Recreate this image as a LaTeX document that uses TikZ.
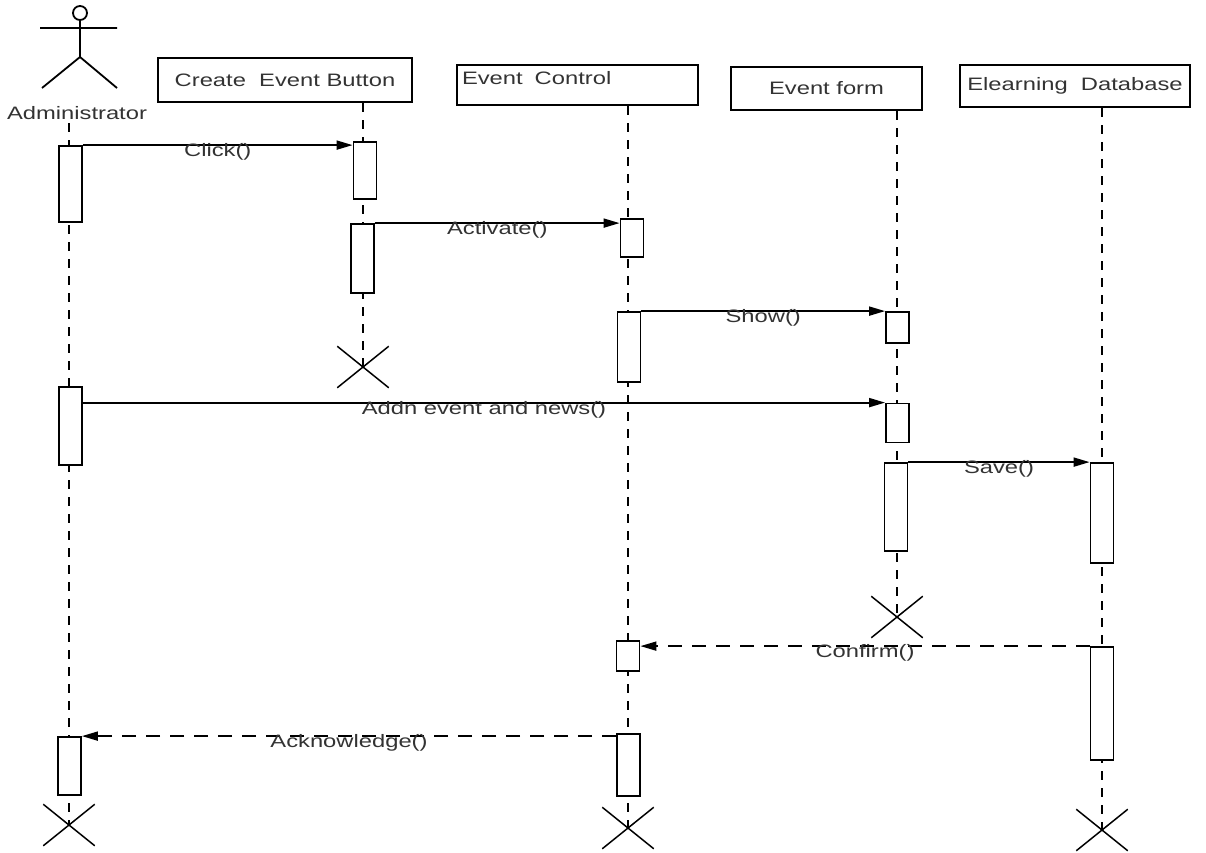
\documentclass[tikz,border=0pt]{standalone}
\usepackage{fontspec}
\setmainfont{Liberation Sans}[FakeStretch=1.32]
\usetikzlibrary{arrows.meta, positioning, shapes.misc}

\begin{document}
\begin{tikzpicture}[x=1pt, y=-1pt,
    txt/.style = {font=\fontsize{18}{21}\selectfont, text=black!80},
    obj/.style = {txt, draw, line width=2pt},
    act/.style = {draw, fill=white, line width=1.8pt, minimum width=23pt, inner sep=0pt},
    life/.style = {line width=1.1pt, dash pattern=on 9pt off 8pt},
    msg/.style = {line width=1.8pt, -{Triangle[length=16pt, width=9pt]}},
    reply/.style = {msg, dash pattern=on 14pt off 10pt},
    lbl/.style = {txt, midway, yshift=-7pt},
    kill/.style = {draw, cross out, line width=1.5pt, minimum width=50pt, minimum height=40pt, inner sep=0pt}
]
\useasboundingbox (0,0) rectangle (1206,852);

% Actor figure
\draw[line width=1.8pt] (80,13) circle (7pt);
\draw[line width=1.8pt] (40,28) -- (117,28) (80,20) -- (80,57) (42,88) -- (80,57) -- (117,88);
\node[txt] (admin) at (77,113) {Administrator};

% Object boxes along the top
\node[obj, minimum width=254pt, minimum height=44pt] (cebtn) at (285,80) {Create~ Event Button};
\node[obj, minimum width=241pt, minimum height=40pt, text width=231pt, inner xsep=5pt,
      align=left, text height=13pt, text depth=15pt] (evctl) at (577.5,85) {Event~ Control};
\node[obj, minimum width=191pt, minimum height=43pt] (evform) at (826.5,88.5) {Event form};
\node[obj, minimum width=230pt, minimum height=42pt] (eldb) at (1075,86) {Elearning~ Database};

% Destruction marks
\node[kill] (adx) at (69,825) {};
\node[kill] (cbx) at (363,367) {};
\node[kill] (ecx) at (628,828) {};
\node[kill] (efx) at (897,617) {};
\node[kill] (dbx) at (1102,830) {};

% Lifelines
\draw[life] (adx |- admin.south) -- (adx.center);
\draw[life] (cbx |- cebtn.south) -- (cbx.center);
\draw[life] (ecx |- evctl.south) -- (ecx.center);
\draw[life] (efx |- evform.south) -- (efx.center);
\draw[life] (dbx |- eldb.south) -- (dbx.center);

% Activation bars
\node[act, minimum height=76pt] (ad1) at (70.5,184) {};
\node[act, minimum height=78pt] (ad2) at (70.5,426) {};
\node[act, minimum height=58pt] (ad3) at (69.5,766) {};
\node[act, minimum height=57pt] (cb1) at (365,170.5) {};
\node[act, minimum height=69pt] (cb2) at (362.5,258.5) {};
\node[act, minimum height=38pt] (ec1) at (632,238) {};
\node[act, minimum height=70pt] (ec2) at (629,347) {};
\node[act, minimum height=30pt] (ec3) at (628,656) {};
\node[act, minimum height=62pt] (ec4) at (628.5,765) {};
\node[act, minimum height=31pt] (ef1) at (897.5,327.5) {};
\node[act, minimum height=39pt] (ef2) at (897.5,423) {};
\node[act, minimum height=88pt] (ef3) at (896,507) {};
\node[act, minimum height=100pt] (db1) at (1102,513) {};
\node[act, minimum height=113pt] (db2) at (1102,703.5) {};

% Messages
\draw[msg] (ad1.north east) -- (ad1.north east -| cb1.west) node[lbl] {Click()};
\draw[msg] (cb2.north east) -- (cb2.north east -| ec1.west) node[lbl] {Activate()};
\draw[msg] (ec2.north east) -- (ec2.north east -| ef1.west) node[lbl] {Show()};
\draw[msg] (ad2.east |- ef2.north) -- (ef2.north west) node[lbl] {Addn event and news()};
\draw[msg] (ef3.north east) -- (ef3.north east -| db1.west) node[lbl] {Save()};
\draw[reply] (db2.north west) -- (db2.north west -| ec3.east) node[lbl] {Confirm()};
\draw[reply] (ad3.north east -| ec4.west) -- (ad3.north east) node[lbl] {Acknowledge()};

\end{tikzpicture}
\end{document}
